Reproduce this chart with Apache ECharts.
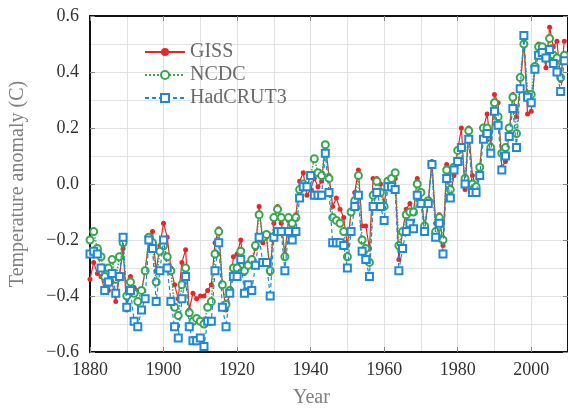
<!DOCTYPE html>
<html>
<head>
<meta charset="utf-8">
<script src="https://cdn.jsdelivr.net/npm/echarts@6/dist/echarts.min.js"></script>
<style>
html,body{margin:0;padding:0;background:#fff;}
#chart{width:568px;height:410px;}
</style>
</head>
<body>
<div id="chart"></div>
<script>
var years = [
1880,1881,1882,1883,1884,1885,1886,1887,1888,1889,
1890,1891,1892,1893,1894,1895,1896,1897,1898,1899,
1900,1901,1902,1903,1904,1905,1906,1907,1908,1909,
1910,1911,1912,1913,1914,1915,1916,1917,1918,1919,
1920,1921,1922,1923,1924,1925,1926,1927,1928,1929,
1930,1931,1932,1933,1934,1935,1936,1937,1938,1939,
1940,1941,1942,1943,1944,1945,1946,1947,1948,1949,
1950,1951,1952,1953,1954,1955,1956,1957,1958,1959,
1960,1961,1962,1963,1964,1965,1966,1967,1968,1969,
1970,1971,1972,1973,1974,1975,1976,1977,1978,1979,
1980,1981,1982,1983,1984,1985,1986,1987,1988,1989,
1990,1991,1992,1993,1994,1995,1996,1997,1998,1999,
2000,2001,2002,2003,2004,2005,2006,2007,2008,2009];

var giss = [
-0.34,-0.28,-0.32,-0.33,-0.38,-0.38,-0.35,-0.42,-0.33,-0.23,
-0.45,-0.33,-0.37,-0.38,-0.385,-0.31,-0.20,-0.17,-0.31,-0.22,
-0.14,-0.19,-0.30,-0.36,-0.41,-0.28,-0.235,-0.45,-0.39,-0.41,
-0.40,-0.40,-0.38,-0.36,-0.21,-0.16,-0.36,-0.45,-0.39,-0.26,
-0.25,-0.20,-0.32,-0.28,-0.28,-0.23,-0.08,-0.21,-0.19,-0.32,
-0.14,-0.08,-0.14,-0.25,-0.13,-0.18,-0.11,0.01,0.04,-0.04,
-0.02,0.02,-0.01,0.01,0.14,0.03,-0.08,-0.05,-0.09,-0.12,
-0.22,-0.10,-0.03,0.05,-0.15,-0.15,-0.23,0.02,0.02,0.00,
-0.07,0.01,-0.02,0.02,-0.27,-0.17,-0.09,-0.07,-0.10,0.02,
-0.03,-0.16,-0.06,0.08,-0.14,-0.11,-0.22,0.07,-0.04,0.03,
0.12,0.20,-0.02,0.20,0.03,-0.01,0.06,0.20,0.25,0.14,
0.32,0.29,0.06,0.08,0.18,0.32,0.24,0.34,0.51,0.25,
0.26,0.42,0.50,0.49,0.415,0.56,0.49,0.51,0.37,0.51];

var ncdc = [
-0.20,-0.17,-0.23,-0.26,-0.33,-0.30,-0.27,-0.34,-0.26,-0.21,
-0.40,-0.35,-0.39,-0.42,-0.38,-0.31,-0.19,-0.21,-0.35,-0.24,
-0.22,-0.26,-0.31,-0.44,-0.47,-0.36,-0.30,-0.46,-0.49,-0.48,
-0.49,-0.50,-0.44,-0.42,-0.25,-0.17,-0.36,-0.43,-0.38,-0.30,
-0.30,-0.24,-0.31,-0.29,-0.27,-0.22,-0.11,-0.19,-0.18,-0.31,
-0.12,-0.09,-0.12,-0.26,-0.12,-0.14,-0.12,-0.02,0.00,-0.01,
0.03,0.09,0.04,0.03,0.14,0.02,-0.12,-0.13,-0.14,-0.17,
-0.26,-0.10,-0.06,0.03,-0.20,-0.23,-0.28,-0.04,0.01,-0.03,
-0.08,0.01,0.02,0.04,-0.22,-0.17,-0.11,-0.10,-0.10,0.00,
-0.03,-0.15,-0.06,0.07,-0.17,-0.12,-0.20,0.05,-0.02,0.06,
0.12,0.13,0.02,0.19,0.00,-0.01,0.06,0.20,0.20,0.13,
0.29,0.24,0.11,0.13,0.20,0.31,0.18,0.38,0.50,0.32,
0.32,0.42,0.49,0.49,0.45,0.52,0.46,0.45,0.38,0.46];

var hadcrut3 = [
-0.25,-0.24,-0.25,-0.30,-0.38,-0.35,-0.32,-0.39,-0.33,-0.19,
-0.44,-0.38,-0.49,-0.51,-0.45,-0.41,-0.20,-0.23,-0.42,-0.31,
-0.20,-0.30,-0.42,-0.51,-0.55,-0.41,-0.33,-0.51,-0.56,-0.56,
-0.55,-0.58,-0.49,-0.49,-0.31,-0.21,-0.44,-0.51,-0.39,-0.33,
-0.33,-0.27,-0.39,-0.36,-0.38,-0.29,-0.19,-0.28,-0.28,-0.40,
-0.19,-0.17,-0.17,-0.31,-0.17,-0.20,-0.17,-0.05,-0.01,-0.01,
0.03,-0.04,-0.04,-0.04,0.11,-0.03,-0.21,-0.21,-0.21,-0.22,
-0.30,-0.17,-0.08,-0.04,-0.24,-0.27,-0.33,-0.08,-0.03,-0.08,
-0.13,-0.01,-0.01,-0.02,-0.31,-0.23,-0.17,-0.14,-0.16,-0.04,
-0.07,-0.17,-0.07,0.07,-0.19,-0.14,-0.25,0.02,-0.05,0.05,
0.08,0.13,0.00,0.16,-0.03,-0.03,0.03,0.16,0.18,0.11,
0.26,0.21,0.05,0.10,0.17,0.27,0.13,0.34,0.53,0.31,
0.29,0.41,0.46,0.47,0.45,0.48,0.43,0.40,0.33,0.44];

var xTicks = [1880, 1900, 1920, 1940, 1960, 1980, 2000];
var yTicks = [-0.6, -0.4, -0.2, 0.0, 0.2, 0.4, 0.6];

function pairs(vals) {
  var out = [];
  for (var i = 0; i < years.length; i++) out.push([years[i], vals[i]]);
  return out;
}

var FONT = 'Liberation Serif';
var chart = echarts.init(document.getElementById('chart'), null, {renderer: 'canvas'});

var splitStyle = {show: true, lineStyle: {color: '#e2e2e2', width: 1}};
var tickStyle = {show: true, inside: true, length: 5, lineStyle: {color: '#888', width: 1}};

var option = {
  backgroundColor: '#fff',
  animation: false,
  grid: {left: 89, right: -3, top: 16, bottom: 58, containLabel: false},
  legend: {
    orient: 'vertical',
    left: 139,
    top: 37,
    itemWidth: 40,
    itemHeight: 10,
    itemGap: 3,
    textStyle: {fontFamily: FONT, fontSize: 20, color: '#6a6a6a', lineHeight: 20},
    data: ['GISS', 'NCDC', 'HadCRUT3']
  },
  xAxis: [{
    type: 'value', min: 1880, max: 2010, interval: 20,
    axisLine: {show: true, onZero: false, lineStyle: {color: '#111', width: 2}},
    axisTick: tickStyle,
    minorTick: {show: false, splitNumber: 2},
    splitLine: splitStyle,
    minorSplitLine: splitStyle,
    axisLabel: {
      fontFamily: FONT, fontSize: 18, color: '#333', margin: 9,
      showMaxLabel: false,
      formatter: function (v) { return xTicks.indexOf(v) >= 0 ? String(v) : ''; }
    }
  }, {
    type: 'value', position: 'top', min: 1880, max: 2010, interval: 20,
    axisLine: {show: true, onZero: false, lineStyle: {color: '#111', width: 2}},
    axisTick: tickStyle,
    splitLine: {show: false},
    axisLabel: {show: false}
  }],
  yAxis: [{
    type: 'value', min: -0.6, max: 0.6, interval: 0.2,
    axisLine: {show: true, onZero: false, lineStyle: {color: '#111', width: 2}},
    axisTick: tickStyle,
    minorTick: {show: false, splitNumber: 2},
    splitLine: splitStyle,
    minorSplitLine: splitStyle,
    name: 'Temperature anomaly (C)',
    nameLocation: 'middle',
    nameGap: 62,
    nameTextStyle: {fontFamily: FONT, fontSize: 20, color: '#808080'},
    axisLabel: {
      fontFamily: FONT, fontSize: 18, color: '#333', margin: 11,
      formatter: function (v) {
        var t = Math.round(v * 10) / 10;
        var s = Math.abs(t).toFixed(1);
        return (t < 0 ? '\u2212' : '') + s;
      }
    }
  }, {
    type: 'value', position: 'right', min: -0.6, max: 0.6, interval: 0.2,
    axisLine: {show: true, onZero: false, lineStyle: {color: '#111', width: 2}},
    axisTick: tickStyle,
    splitLine: {show: false},
    axisLabel: {show: false}
  }],
  graphic: [{
    type: 'text', left: 293, top: 388,
    style: {text: 'Year', font: '20px "Liberation Serif"', fill: '#808080'}
  }],
  series: [{
    name: 'GISS', type: 'line', data: pairs(giss),
    color: '#e8262a',
    symbol: 'circle', symbolSize: 5,
    lineStyle: {color: '#e8262a', width: 1.2, type: 'solid'},
    itemStyle: {color: '#e8262a'},
    z: 2
  }, {
    name: 'NCDC', type: 'line', data: pairs(ncdc),
    color: '#37a84e',
    symbol: 'emptyCircle', symbolSize: 7,
    lineStyle: {color: '#37a84e', width: 1.5, type: 'dotted'},
    itemStyle: {color: '#37a84e', borderWidth: 1.5},
    z: 3
  }, {
    name: 'HadCRUT3', type: 'line', data: pairs(hadcrut3),
    color: '#1f8ad2',
    symbol: 'emptyRect', symbolSize: 7,
    lineStyle: {color: '#1f8ad2', width: 1.2, type: [4, 3]},
    itemStyle: {color: '#1f8ad2', borderWidth: 1.5},
    z: 4
  }]
};
chart.setOption(option);
</script>
</body>
</html>
